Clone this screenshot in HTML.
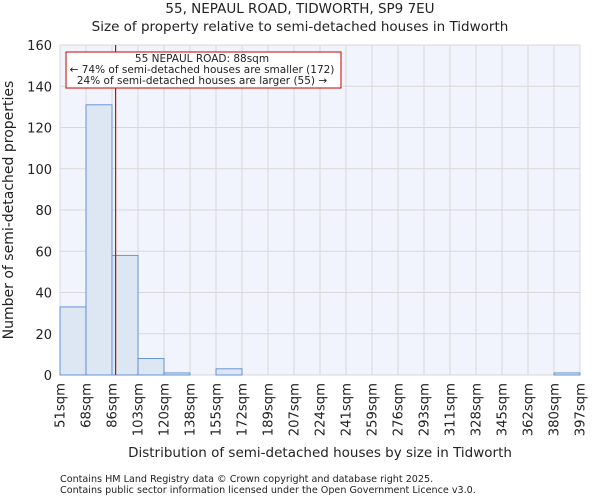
<!DOCTYPE html>
<html><head><meta charset="utf-8"><style>
body{margin:0;background:#fff;font-family:"DejaVu Sans","Liberation Sans",sans-serif;}
svg text{font-family:"DejaVu Sans","Liberation Sans",sans-serif;fill:#222;}
</style></head><body>
<svg id="chart" width="600" height="500">
<text x="300" y="13" font-size="13.5" text-anchor="middle">55, NEPAUL ROAD, TIDWORTH, SP9 7EU</text>
<text x="300" y="31" font-size="13.5" text-anchor="middle">Size of property relative to semi-detached houses in Tidworth</text>
<rect x="60" y="45" width="520" height="330" fill="#f1f4fc"/>
<g id="grid"></g><g id="bars"></g><g id="ticks"></g>
<text transform="translate(13,210) rotate(-90)" font-size="14" text-anchor="middle">Number of semi-detached properties</text>
<text x="320" y="457" font-size="13.5" text-anchor="middle">Distribution of semi-detached houses by size in Tidworth</text>
<line id="marker" y1="45" y2="375" stroke="#dd0000" stroke-width="1.2"/>
<g>
<rect x="66" y="52" width="275" height="36" fill="#fff" stroke="#cc0000" stroke-width="1"/>
<text x="202" y="62" font-size="10.5" text-anchor="middle">55 NEPAUL ROAD: 88sqm</text>
<text x="202" y="73" font-size="10.5" text-anchor="middle">← 74% of semi-detached houses are smaller (172)</text>
<text x="202" y="84" font-size="10.5" text-anchor="middle">24% of semi-detached houses are larger (55) →</text>
</g>
<text x="60" y="482" font-size="9.6">Contains HM Land Registry data © Crown copyright and database right 2025.</text>
<text x="60" y="493" font-size="9.6">Contains public sector information licensed under the Open Government Licence v3.0.</text>
</svg>
<script>
const binLabels=["51sqm","68sqm","86sqm","103sqm","120sqm","138sqm","155sqm","172sqm","189sqm","207sqm","224sqm","241sqm","259sqm","276sqm","293sqm","311sqm","328sqm","345sqm","362sqm","380sqm","397sqm"];
const binEdges=[51,68.3,85.6,102.9,120.2,137.5,154.8,172.1,189.4,206.7,224,241.3,258.6,275.9,293.2,310.5,327.8,345.1,362.4,379.7,397];
const counts=[33,131,58,8,1,0,3,0,0,0,0,0,0,0,0,0,0,0,0,1];
const yTicks=[0,20,40,60,80,100,120,140,160];
const propertySize=88;
const NS="http://www.w3.org/2000/svg";
const x0=60,x1=580,y0=375,y1=45;
function xs(v){return x0+(v-binEdges[0])/(binEdges[binEdges.length-1]-binEdges[0])*(x1-x0);}
function ys(v){return y0-(v/160)*(y0-y1);}
function mk(t,a,p){const e=document.createElementNS(NS,t);for(const k in a)e.setAttribute(k,a[k]);p.appendChild(e);return e;}
const grid=document.getElementById('grid'),bars=document.getElementById('bars'),ticks=document.getElementById('ticks');
yTicks.forEach(v=>{
 const l=mk('line',{x1:x0,x2:x1,y1:ys(v),y2:ys(v),stroke:'#d8d8d8','stroke-width':1},grid);
 
 
 const t=mk('text',{x:x0-8,y:ys(v)+5,'font-size':13,'text-anchor':'end'},ticks);
 t.textContent=v;
 
 
});
binEdges.forEach((v,i)=>{
 const l=mk('line',{x1:xs(v),x2:xs(v),y1:y1,y2:y0,stroke:'#d8d8d8','stroke-width':1},grid);
 
 
 const x=xs(v)+4.5;
 const t=mk('text',{x:0,y:0,'font-size':13.2,'text-anchor':'end',transform:`translate(${x},383) rotate(-90)`},ticks);
 t.textContent=binLabels[i];
 
 
});
counts.forEach((c,i)=>{
 if(c<=0)return;
 const r=mk('rect',{x:xs(binEdges[i]),y:ys(c),width:xs(binEdges[i+1])-xs(binEdges[i]),height:y0-ys(c),fill:'#dde6f3',stroke:'#5b8bd0','stroke-width':0.9},bars);
 
 
});
const m=document.getElementById('marker');m.setAttribute('x1',xs(propertySize));m.setAttribute('x2',xs(propertySize));
</script>
</body></html>
